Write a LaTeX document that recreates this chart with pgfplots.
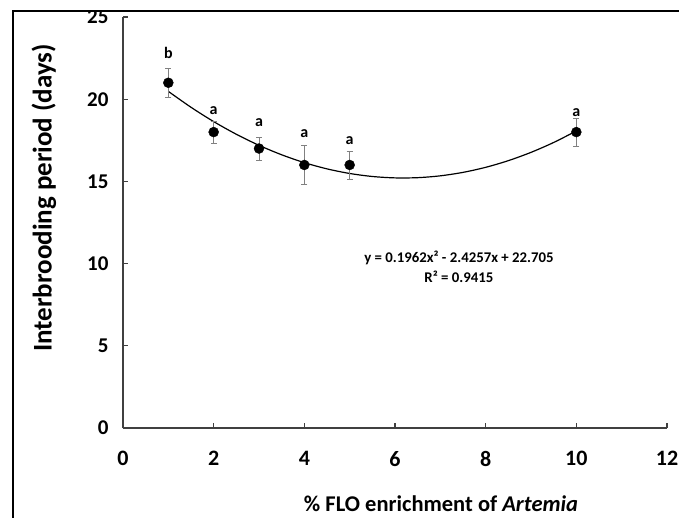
\documentclass[border=0pt]{standalone}
\usepackage{pgfplots}
\pgfplotsset{compat=1.18}
\usepackage{fontspec}
\setmainfont{Carlito}
\definecolor{axisgray}{HTML}{404040}
\definecolor{errgray}{HTML}{808080}
\begin{document}
\begin{tikzpicture}[x=1pt,y=1pt,
    lettr/.style={anchor=base, inner sep=0pt, font=\fontsize{16}{18}\selectfont\bfseries}]
\path[use as bounding box] (0,0) rectangle (679,517);
\begin{scope}
\clip (13,-5) rectangle (690,506);
\begin{axis}[
    at={(123pt,89pt)}, anchor=south west,
    scale only axis,
    width=544pt, height=411pt,
    xmin=0, xmax=12, ymin=0, ymax=25,
    xtick={0,2,...,12}, ytick={0,5,...,25},
    axis x line=bottom, axis y line=left,
    axis line style={axisgray, line width=1.2pt, -},
    tick style={axisgray, line width=1.1pt},
    major tick length=5pt,
    tick align=inside,
    clip=false,
    /pgf/number format/assume math mode=true,
    xticklabel style={font=\fontsize{22}{26}\selectfont\bfseries, yshift=-20pt},
    yticklabel style={font=\fontsize{21}{25}\selectfont\bfseries, xshift=-11pt},
]
% trendline y = 0.1962x^2 - 2.4257x + 22.705, values listed
\addplot[black, line width=1.2pt, smooth] coordinates {
(1,20.476) (1.5,19.508) (2,18.638) (2.5,17.867) (3,17.194) (3.5,16.619)
(4,16.141) (4.5,15.762) (5,15.482) (5.5,15.299) (6,15.214) (6.5,15.227)
(7,15.339) (7.5,15.549) (8,15.856) (8.5,16.262) (9,16.766) (9.5,17.368) (10,18.068)};
% means with error bars
\addplot[only marks, mark=*, mark size=5pt, black,
    error bars/.cd, y dir=both, y explicit,
    error bar style={errgray, line width=0.8pt},
    error mark options={errgray, rotate=90, mark size=3pt, line width=0.8pt}]
coordinates {
(1,21) +- (0,0.9)
(2,18) +- (0,0.67)
(3,17) +- (0,0.7)
(4,16) +- (0,1.2)
(5,16) +- (0,0.85)
(10,18) +- (0,0.85)};
% significance letters
\node[lettr] at (axis cs:1,22.5) {b};
\node[lettr] at (axis cs:2,19.05) {a};
\node[lettr] at (axis cs:3,18.35) {a};
\node[lettr] at (axis cs:4,17.65) {a};
\node[lettr] at (axis cs:5,17.27) {a};
\node[lettr] at (axis cs:10,18.95) {a};
\node[anchor=base, font=\fontsize{14.8}{17}\selectfont\bfseries] at (axis cs:7.41,10.04) {y = 0.1962x² - 2.4257x + 22.705};
\node[anchor=base, font=\fontsize{14.8}{17}\selectfont\bfseries] at (axis cs:7.41,8.88) {R² = 0.9415};
\end{axis}
\node[rotate=90, font=\fontsize{27}{31}\selectfont\bfseries] at (44,319) {Interbrooding period (days)};
\node[anchor=base, font=\fontsize{22.5}{26}\selectfont\bfseries] at (441,6) {\% FLO enrichment of \textit{Artemia}};
\end{scope}
\draw[black, line width=1.5pt] (13,-5) -- (13,506) -- (690,506);
\end{tikzpicture}
\end{document}
